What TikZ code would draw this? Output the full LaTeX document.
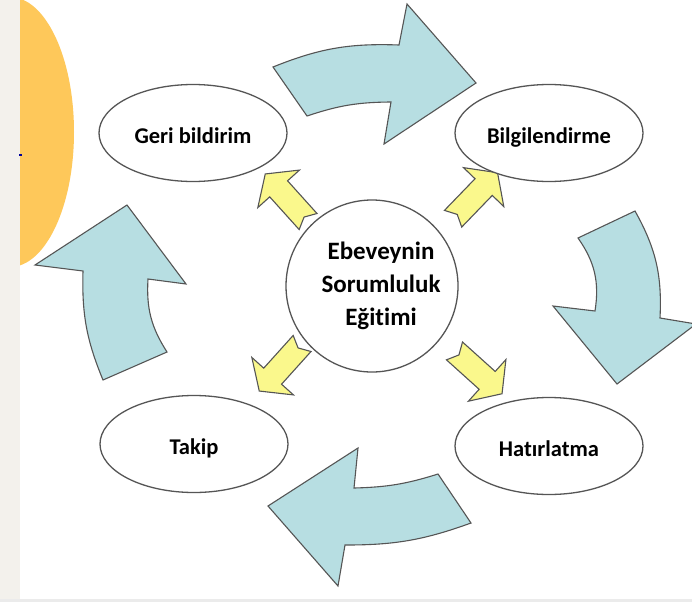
\documentclass[tikz,border=0pt]{standalone}
\usepackage{fontspec}
\setmainfont{Carlito}[Ligatures=NoCommon]
\usetikzlibrary{shapes.geometric}
\definecolor{cycleblue}{RGB}{183,222,226}
\definecolor{spokeyellow}{RGB}{250,248,140}
\definecolor{sunorange}{RGB}{254,200,90}
\definecolor{edgegray}{RGB}{85,85,85}
\definecolor{stripcream}{RGB}{243,241,236}
\tikzset{
  stage/.style={ellipse, draw=edgegray, line width=1.3pt, fill=white, minimum width=188pt, minimum height=97pt, text height=21pt, text depth=0pt, font=\fontsize{22.5}{27}\selectfont\bfseries},
  hub/.style={circle, draw=edgegray, line width=1.3pt, fill=white, minimum size=172pt},
  hubtext/.style={align=center, font=\fontsize{25}{33}\selectfont\bfseries},
  cyclearrow/.style={draw=edgegray, line width=1.1pt, fill=cycleblue},
  spoke/.style={draw=edgegray, line width=1.1pt, fill=spokeyellow},
}
\begin{document}
\begin{tikzpicture}[x=1pt, y=-1pt]
    \useasboundingbox (0,0) rectangle (692,602);
    \clip (0,0) rectangle (692,602);
    \fill[white] (0,0) rectangle (692,602);
    \fill[stripcream] (0,0) rectangle (20,602);
    \fill[black!8] (0,599) rectangle (692,602);
    \begin{scope}
        \clip (20,0) rectangle (692,602);
        \fill[sunorange] (10,132) ellipse [x radius=64, y radius=135];
    \end{scope}
    \draw[blue!60!black, line width=1.5pt] (19,155) -- (21.5,155);

    \path[cyclearrow] (273,67) to[bend left=12] (399,45) -- (407,4) -- (476,83) -- (384,144) -- (391,102) to[bend right=9] (307,116) -- cycle;
    \path[cyclearrow] (578,238) -- (635,211) to[bend left=16] (660,318) -- (696,324) -- (617,384) -- (553,306) -- (595,311) to[bend right=22] (578,238) -- cycle;
    \path[cyclearrow] (438,474) -- (471,523) to[bend left=10] (345,545) -- (338,586) -- (268,506) -- (358,448) -- (354,488) to[bend right=8] (438,474) -- cycle;
    \path[cyclearrow] (167,352) -- (103,380) to[bend left=12] (83,271) -- (35,265) -- (127,205) -- (186,284) -- (148,279) to[bend right=18] (167,352) -- cycle;

    \foreach \pos/\ang in {{286,197}/132, {476,195}/46, {280,368}/228, {479,373}/-42}
        \path[spoke, shift={(\pos)}, rotate=\ang] (-33,-12) -- (-27,0) -- (-33,12) -- (11,12) -- (11,28) -- (31,0) -- (11,-28) -- (11,-12) -- cycle;

    \node[hub] (hub) at (372,286) {};
    \node[hubtext] (hubtitle) at ([xshift=9pt]hub.center) {Ebeveynin\\Sorumluluk\\Eğitimi};
    \node[stage] (geri) at (193,133) {Geri bildirim};
    \node[stage] (bilgi) at (549,133) {Bilgilendirme};
    \node[stage] (takip) at (194,444) {Takip};
    \node[stage] (hatir) at (549,446) {Hatırlatma};
\end{tikzpicture}
\end{document}
